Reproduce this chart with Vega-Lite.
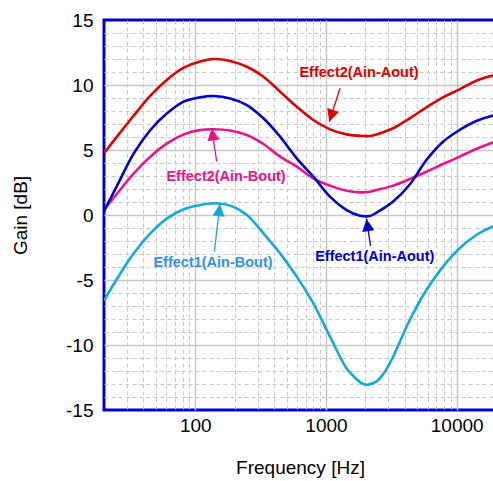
{
  "$schema": "https://vega.github.io/schema/vega-lite/v6.json",
  "width": 392,
  "height": 390,
  "autosize": {"type": "none"},
  "padding": {"left": 104, "top": 20, "right": 0, "bottom": 71},
  "background": "white",
  "config": {
    "font": "Liberation Sans",
    "view": {"stroke": "#0000CC", "strokeWidth": 3},
    "axis": {"labelFontSize": 19, "titleFontSize": 19, "labelColor": "black", "titleColor": "black", "titleFontWeight": "normal", "labelFont": "Liberation Sans", "titleFont": "Liberation Sans"}
  },
  "datasets": {
    "curves": [
      {"series": "Effect2(Ain-Aout)", "freq": 20, "gain": 4.75},
      {"series": "Effect2(Ain-Aout)", "freq": 26.7, "gain": 6.36},
      {"series": "Effect2(Ain-Aout)", "freq": 33.8, "gain": 7.65},
      {"series": "Effect2(Ain-Aout)", "freq": 45.3, "gain": 9.18},
      {"series": "Effect2(Ain-Aout)", "freq": 60.8, "gain": 10.41},
      {"series": "Effect2(Ain-Aout)", "freq": 81.5, "gain": 11.33},
      {"series": "Effect2(Ain-Aout)", "freq": 109, "gain": 11.81},
      {"series": "Effect2(Ain-Aout)", "freq": 138, "gain": 12.0},
      {"series": "Effect2(Ain-Aout)", "freq": 185, "gain": 11.85},
      {"series": "Effect2(Ain-Aout)", "freq": 248, "gain": 11.4},
      {"series": "Effect2(Ain-Aout)", "freq": 332, "gain": 10.64},
      {"series": "Effect2(Ain-Aout)", "freq": 445, "gain": 9.49},
      {"series": "Effect2(Ain-Aout)", "freq": 597, "gain": 8.33},
      {"series": "Effect2(Ain-Aout)", "freq": 800, "gain": 7.31},
      {"series": "Effect2(Ain-Aout)", "freq": 1073, "gain": 6.59},
      {"series": "Effect2(Ain-Aout)", "freq": 1438, "gain": 6.2},
      {"series": "Effect2(Ain-Aout)", "freq": 1928, "gain": 6.08},
      {"series": "Effect2(Ain-Aout)", "freq": 2167, "gain": 6.08},
      {"series": "Effect2(Ain-Aout)", "freq": 2437, "gain": 6.2},
      {"series": "Effect2(Ain-Aout)", "freq": 3265, "gain": 6.67},
      {"series": "Effect2(Ain-Aout)", "freq": 4375, "gain": 7.44},
      {"series": "Effect2(Ain-Aout)", "freq": 5870, "gain": 8.28},
      {"series": "Effect2(Ain-Aout)", "freq": 7860, "gain": 9.05},
      {"series": "Effect2(Ain-Aout)", "freq": 10540, "gain": 9.67},
      {"series": "Effect2(Ain-Aout)", "freq": 14130, "gain": 10.33},
      {"series": "Effect2(Ain-Aout)", "freq": 18700, "gain": 10.72},
      {"series": "Effect2(Ain-Aout)", "freq": 20000, "gain": 10.8},

      {"series": "Effect2(Ain-Bout)", "freq": 20, "gain": 0.4},
      {"series": "Effect2(Ain-Bout)", "freq": 25.3, "gain": 1.67},
      {"series": "Effect2(Ain-Bout)", "freq": 33.8, "gain": 3.2},
      {"series": "Effect2(Ain-Bout)", "freq": 45.3, "gain": 4.49},
      {"series": "Effect2(Ain-Bout)", "freq": 60.8, "gain": 5.51},
      {"series": "Effect2(Ain-Bout)", "freq": 81.5, "gain": 6.2},
      {"series": "Effect2(Ain-Bout)", "freq": 109, "gain": 6.54},
      {"series": "Effect2(Ain-Bout)", "freq": 138, "gain": 6.6},
      {"series": "Effect2(Ain-Bout)", "freq": 185, "gain": 6.5},
      {"series": "Effect2(Ain-Bout)", "freq": 248, "gain": 6.15},
      {"series": "Effect2(Ain-Bout)", "freq": 332, "gain": 5.46},
      {"series": "Effect2(Ain-Bout)", "freq": 445, "gain": 4.49},
      {"series": "Effect2(Ain-Bout)", "freq": 597, "gain": 3.72},
      {"series": "Effect2(Ain-Bout)", "freq": 800, "gain": 2.82},
      {"series": "Effect2(Ain-Bout)", "freq": 1073, "gain": 2.26},
      {"series": "Effect2(Ain-Bout)", "freq": 1438, "gain": 1.87},
      {"series": "Effect2(Ain-Bout)", "freq": 1928, "gain": 1.74},
      {"series": "Effect2(Ain-Bout)", "freq": 2437, "gain": 1.92},
      {"series": "Effect2(Ain-Bout)", "freq": 3265, "gain": 2.26},
      {"series": "Effect2(Ain-Bout)", "freq": 4375, "gain": 2.77},
      {"series": "Effect2(Ain-Bout)", "freq": 5870, "gain": 3.33},
      {"series": "Effect2(Ain-Bout)", "freq": 7860, "gain": 3.92},
      {"series": "Effect2(Ain-Bout)", "freq": 10540, "gain": 4.49},
      {"series": "Effect2(Ain-Bout)", "freq": 14130, "gain": 5.08},
      {"series": "Effect2(Ain-Bout)", "freq": 18700, "gain": 5.56},
      {"series": "Effect2(Ain-Bout)", "freq": 20000, "gain": 5.65},

      {"series": "Effect1(Ain-Aout)", "freq": 20, "gain": 0.3},
      {"series": "Effect1(Ain-Aout)", "freq": 25.3, "gain": 2.3},
      {"series": "Effect1(Ain-Aout)", "freq": 33.8, "gain": 4.74},
      {"series": "Effect1(Ain-Aout)", "freq": 45.3, "gain": 6.54},
      {"series": "Effect1(Ain-Aout)", "freq": 60.8, "gain": 7.82},
      {"series": "Effect1(Ain-Aout)", "freq": 81.5, "gain": 8.72},
      {"series": "Effect1(Ain-Aout)", "freq": 109, "gain": 9.05},
      {"series": "Effect1(Ain-Aout)", "freq": 138, "gain": 9.15},
      {"series": "Effect1(Ain-Aout)", "freq": 185, "gain": 8.97},
      {"series": "Effect1(Ain-Aout)", "freq": 248, "gain": 8.46},
      {"series": "Effect1(Ain-Aout)", "freq": 332, "gain": 7.44},
      {"series": "Effect1(Ain-Aout)", "freq": 445, "gain": 6.03},
      {"series": "Effect1(Ain-Aout)", "freq": 597, "gain": 4.36},
      {"series": "Effect1(Ain-Aout)", "freq": 800, "gain": 2.95},
      {"series": "Effect1(Ain-Aout)", "freq": 1073, "gain": 1.41},
      {"series": "Effect1(Ain-Aout)", "freq": 1438, "gain": 0.38},
      {"series": "Effect1(Ain-Aout)", "freq": 1820, "gain": -0.05},
      {"series": "Effect1(Ain-Aout)", "freq": 2167, "gain": -0.08},
      {"series": "Effect1(Ain-Aout)", "freq": 2437, "gain": 0.18},
      {"series": "Effect1(Ain-Aout)", "freq": 3265, "gain": 1.03},
      {"series": "Effect1(Ain-Aout)", "freq": 4375, "gain": 2.35},
      {"series": "Effect1(Ain-Aout)", "freq": 5870, "gain": 4.23},
      {"series": "Effect1(Ain-Aout)", "freq": 7860, "gain": 5.64},
      {"series": "Effect1(Ain-Aout)", "freq": 10540, "gain": 6.54},
      {"series": "Effect1(Ain-Aout)", "freq": 14130, "gain": 7.23},
      {"series": "Effect1(Ain-Aout)", "freq": 18700, "gain": 7.64},
      {"series": "Effect1(Ain-Aout)", "freq": 20000, "gain": 7.7},

      {"series": "Effect1(Ain-Bout)", "freq": 20, "gain": -6.6},
      {"series": "Effect1(Ain-Bout)", "freq": 25.3, "gain": -4.87},
      {"series": "Effect1(Ain-Bout)", "freq": 33.8, "gain": -2.95},
      {"series": "Effect1(Ain-Bout)", "freq": 45.3, "gain": -1.41},
      {"series": "Effect1(Ain-Bout)", "freq": 60.8, "gain": -0.26},
      {"series": "Effect1(Ain-Bout)", "freq": 81.5, "gain": 0.44},
      {"series": "Effect1(Ain-Bout)", "freq": 109, "gain": 0.77},
      {"series": "Effect1(Ain-Bout)", "freq": 138, "gain": 0.9},
      {"series": "Effect1(Ain-Bout)", "freq": 185, "gain": 0.72},
      {"series": "Effect1(Ain-Bout)", "freq": 248, "gain": 0.0},
      {"series": "Effect1(Ain-Bout)", "freq": 332, "gain": -1.41},
      {"series": "Effect1(Ain-Bout)", "freq": 445, "gain": -2.95},
      {"series": "Effect1(Ain-Bout)", "freq": 597, "gain": -4.74},
      {"series": "Effect1(Ain-Bout)", "freq": 800, "gain": -6.8},
      {"series": "Effect1(Ain-Bout)", "freq": 1073, "gain": -9.36},
      {"series": "Effect1(Ain-Bout)", "freq": 1438, "gain": -11.8},
      {"series": "Effect1(Ain-Bout)", "freq": 1665, "gain": -12.5},
      {"series": "Effect1(Ain-Bout)", "freq": 1900, "gain": -12.97},
      {"series": "Effect1(Ain-Bout)", "freq": 2100, "gain": -13.05},
      {"series": "Effect1(Ain-Bout)", "freq": 2437, "gain": -12.8},
      {"series": "Effect1(Ain-Bout)", "freq": 2820, "gain": -12.05},
      {"series": "Effect1(Ain-Bout)", "freq": 3265, "gain": -10.9},
      {"series": "Effect1(Ain-Bout)", "freq": 4375, "gain": -8.08},
      {"series": "Effect1(Ain-Bout)", "freq": 5870, "gain": -5.77},
      {"series": "Effect1(Ain-Bout)", "freq": 7860, "gain": -3.97},
      {"series": "Effect1(Ain-Bout)", "freq": 10540, "gain": -2.56},
      {"series": "Effect1(Ain-Bout)", "freq": 14130, "gain": -1.54},
      {"series": "Effect1(Ain-Bout)", "freq": 18700, "gain": -0.9},
      {"series": "Effect1(Ain-Bout)", "freq": 20000, "gain": -0.8}
    ],
    "notes": [
      {"series": "Effect2(Ain-Aout)", "label": "Effect2(Ain-Aout)", "freq": 1060, "gain": 7.18, "freq2": 1281, "gain2": 9.75, "tfreq": 1790, "tgain": 10.62},
      {"series": "Effect2(Ain-Bout)", "label": "Effect2(Ain-Bout)", "freq": 133.5, "gain": 6.67, "freq2": 145.8, "gain2": 4.1, "tfreq": 171.8, "tgain": 2.58},
      {"series": "Effect1(Ain-Bout)", "label": "Effect1(Ain-Bout)", "freq": 154.5, "gain": 0.85, "freq2": 139.8, "gain2": -2.82, "tfreq": 136.6, "tgain": -3.98},
      {"series": "Effect1(Ain-Aout)", "label": "Effect1(Ain-Aout)", "freq": 2042, "gain": -0.31, "freq2": 2193, "gain2": -2.38, "tfreq": 2361, "tgain": -3.52}
    ]
  },
  "encoding": {
    "x": {
      "field": "freq", "type": "quantitative",
      "scale": {"type": "log", "domain": [20, 20000], "nice": false},
      "axis": {
        "title": "Frequency [Hz]",
        "values": [20,30,40,50,60,70,80,90,100,200,300,400,500,600,700,800,900,1000,2000,3000,4000,5000,6000,7000,8000,9000,10000,20000],
        "format": "d",
        "labelExpr": "(datum.value == 100 || datum.value == 1000 || datum.value == 10000) ? datum.label : ''",
        "labelOverlap": false, "labelFlush": false,
        "labelBaseline": "alphabetic", "labelPadding": 21,
        "ticks": false, "tickSize": 0, "domain": false,
        "titleBaseline": "alphabetic", "titleY": 63,
        "grid": true,
        "gridColor": {"condition": {"test": "datum.value == 100 || datum.value == 1000 || datum.value == 10000", "value": "#c8c8c8"}, "value": "#c8c8c8"},
        "gridDash": {"condition": {"test": "datum.value == 100 || datum.value == 1000 || datum.value == 10000", "value": []}, "value": [4, 3]},
        "gridWidth": {"condition": {"test": "datum.value == 100 || datum.value == 1000 || datum.value == 10000", "value": 1.5}, "value": 1},
        "gridOpacity": {"condition": {"test": "datum.value == 20 || datum.value == 20000", "value": 0}, "value": 1}
      }
    },
    "y": {
      "field": "gain", "type": "quantitative",
      "scale": {"domain": [-15, 15], "nice": false},
      "axis": {
        "title": "Gain [dB]",
        "values": [-15,-14,-13,-12,-11,-10,-9,-8,-7,-6,-5,-4,-3,-2,-1,0,1,2,3,4,5,6,7,8,9,10,11,12,13,14,15],
        "labelExpr": "datum.value % 5 == 0 ? '' + datum.value : ''",
        "labelOverlap": false, "labelFlush": false,
        "labelPadding": 11, "ticks": false, "tickSize": 0, "domain": false,
        "titleX": -84, "titleY": 195, "titleBaseline": "middle", "titleAngle": -90,
        "grid": true,
        "gridColor": {"condition": {"test": "datum.value % 5 == 0", "value": "#c8c8c8"}, "value": "#c8c8c8"},
        "gridDash": {"condition": {"test": "datum.value % 5 == 0", "value": []}, "value": [4, 3]},
        "gridWidth": {"condition": {"test": "datum.value % 5 == 0", "value": 1.5}, "value": 1},
        "gridOpacity": {"condition": {"test": "datum.value == -15 || datum.value == 15", "value": 0}, "value": 1}
      }
    }
  },
  "layer": [
    {
      "data": {"name": "curves"},
      "mark": {"type": "line", "strokeWidth": 2.6, "interpolate": "catmull-rom", "clip": true},
      "encoding": {
        "color": {"field": "series", "type": "nominal", "legend": null,
          "scale": {"domain": ["Effect2(Ain-Aout)", "Effect2(Ain-Bout)", "Effect1(Ain-Aout)", "Effect1(Ain-Bout)"],
                    "range": ["#DD0000", "#EE1188", "#0000CC", "#11AADD"]}}
      }
    },
    {
      "data": {"name": "notes"},
      "mark": {"type": "rule", "strokeWidth": 1.3},
      "encoding": {
        "x2": {"field": "freq2"},
        "y2": {"field": "gain2"},
        "color": {"field": "series", "type": "nominal", "legend": null}
      }
    },
    {
      "data": {"name": "notes"},
      "transform": [{"filter": "datum.series == 'Effect2(Ain-Aout)'"}],
      "mark": {"type": "point", "shape": "M0,0 L-0.5,1 L0.5,1 Z", "filled": true, "opacity": 1, "size": 600, "angle": 198},
      "encoding": {"color": {"field": "series", "type": "nominal", "legend": null}}
    },
    {
      "data": {"name": "notes"},
      "transform": [{"filter": "datum.series == 'Effect2(Ain-Bout)'"}],
      "mark": {"type": "point", "shape": "M0,0 L-0.5,1 L0.5,1 Z", "filled": true, "opacity": 1, "size": 600, "angle": -8.5},
      "encoding": {"color": {"field": "series", "type": "nominal", "legend": null}}
    },
    {
      "data": {"name": "notes"},
      "transform": [{"filter": "datum.series == 'Effect1(Ain-Bout)'"}],
      "mark": {"type": "point", "shape": "M0,0 L-0.5,1 L0.5,1 Z", "filled": true, "opacity": 1, "size": 600, "angle": 6.8},
      "encoding": {"color": {"field": "series", "type": "nominal", "legend": null}}
    },
    {
      "data": {"name": "notes"},
      "transform": [{"filter": "datum.series == 'Effect1(Ain-Aout)'"}],
      "mark": {"type": "point", "shape": "M0,0 L-0.5,1 L0.5,1 Z", "filled": true, "opacity": 1, "size": 600, "angle": -8.4},
      "encoding": {"color": {"field": "series", "type": "nominal", "legend": null}}
    },
    {
      "data": {"name": "notes"},
      "transform": [{"filter": "datum.series != 'Effect1(Ain-Bout)'"}],
      "mark": {"type": "text", "fontSize": 14.5, "fontWeight": "bold", "align": "center", "baseline": "alphabetic"},
      "encoding": {
        "x": {"field": "tfreq", "type": "quantitative"},
        "y": {"field": "tgain", "type": "quantitative"},
        "text": {"field": "label"},
        "color": {"field": "series", "type": "nominal", "legend": null}
      }
    },
    {
      "data": {"name": "notes"},
      "transform": [{"filter": "datum.series == 'Effect1(Ain-Bout)'"}],
      "mark": {"type": "text", "fontSize": 14.5, "fontWeight": "bold", "align": "center", "baseline": "alphabetic", "color": "#3390EE"},
      "encoding": {
        "x": {"field": "tfreq", "type": "quantitative"},
        "y": {"field": "tgain", "type": "quantitative"},
        "text": {"field": "label"}
      }
    }
  ]
}
